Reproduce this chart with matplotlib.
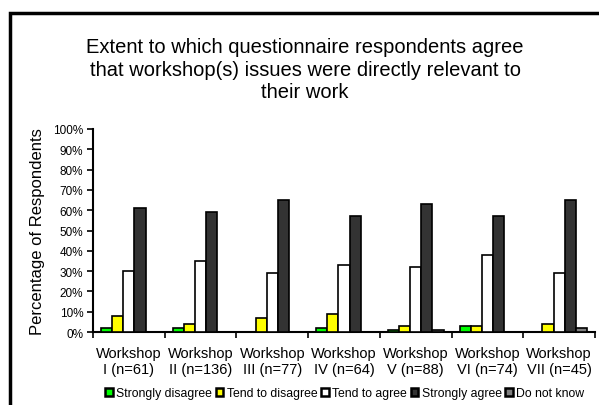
import matplotlib
matplotlib.use("Agg")
import matplotlib.pyplot as plt
import numpy as np
from matplotlib.patches import Rectangle

plt.rcParams['font.family'] = ['Liberation Sans', 'DejaVu Sans']

workshops = ["Workshop\nI (n=61)", "Workshop\nII (n=136)", "Workshop\nIII (n=77)",
             "Workshop\nIV (n=64)", "Workshop\nV (n=88)", "Workshop\nVI (n=74)",
             "Workshop\nVII (n=45)"]
series_names = ["Strongly disagree", "Tend to disagree", "Tend to agree",
                "Strongly agree", "Do not know"]
strongly_disagree = [2, 2, 0, 2, 1, 3, 0]
tend_to_disagree = [8, 4, 7, 9, 3, 3, 4]
tend_to_agree = [30, 35, 29, 33, 32, 38, 29]
strongly_agree = [61, 59, 65, 57, 63, 57, 65]
do_not_know = [0, 0, 0, 0, 1, 0, 2]
colors = ["#00ff00", "#ffff00", "#ffffff", "#333333", "#808080"]

data = [strongly_disagree, tend_to_disagree, tend_to_agree, strongly_agree, do_not_know]

fig = plt.figure(figsize=(5.99, 4.06), dpi=100)
# outer chart border (top and left visible)
fig.patches.append(Rectangle((10/599, -0.1), 1.2, (406-13.5)/406 + 0.1,
                             transform=fig.transFigure, fill=False,
                             edgecolor='black', linewidth=2.5))

ax = fig.add_axes([93/599, 1 - 333/406, (595-93)/599, (333-130)/406])
x = np.arange(len(workshops))
w = 0.155
for i, (vals, c) in enumerate(zip(data, colors)):
    ax.bar(x + (i - 2) * w, vals, width=w, color=c, edgecolor='black',
           linewidth=1.2, label=series_names[i], zorder=3)

ax.set_xlim(-0.5, len(workshops) - 0.5)
ax.set_ylim(0, 100)
ax.set_yticks(np.arange(0, 101, 10))
ax.set_yticklabels([f"{v}%" for v in range(0, 101, 10)], fontsize=8.5)
ax.set_xticks(np.arange(-0.5, len(workshops), 1.0))
ax.set_xticklabels([])
ax.set_xticks(x, minor=True)
ax.set_xticklabels(workshops, minor=True, fontsize=10.5)
ax.tick_params(axis='x', which='minor', length=0, pad=10)
ax.tick_params(axis='x', which='major', length=4, width=1.2, direction='out')
ax.tick_params(axis='y', length=4, width=1.2, pad=3)
for s in ['top', 'right']:
    ax.spines[s].set_visible(False)
ax.spines['left'].set_linewidth(1.5)
ax.spines['bottom'].set_linewidth(1.5)
ax.set_ylabel("Percentage of Respondents", fontsize=12, labelpad=6)

fig.text(305/599, 1 - 70/406, "Extent to which questionnaire respondents agree\n"
         "that workshop(s) issues were directly relevant to\ntheir work",
         ha='center', va='center', fontsize=14.5, linespacing=1.25)

leg = fig.legend(loc='center', bbox_to_anchor=(345/599, 1 - 394/406), ncol=5,
                 fontsize=8.8, frameon=False, handlelength=0.6, handleheight=0.6,
                 handletextpad=0.3, columnspacing=0.3, borderaxespad=0)
for h in leg.legend_handles:
    h.set_linewidth(1.8)

fig.savefig("out.png", dpi=100)
